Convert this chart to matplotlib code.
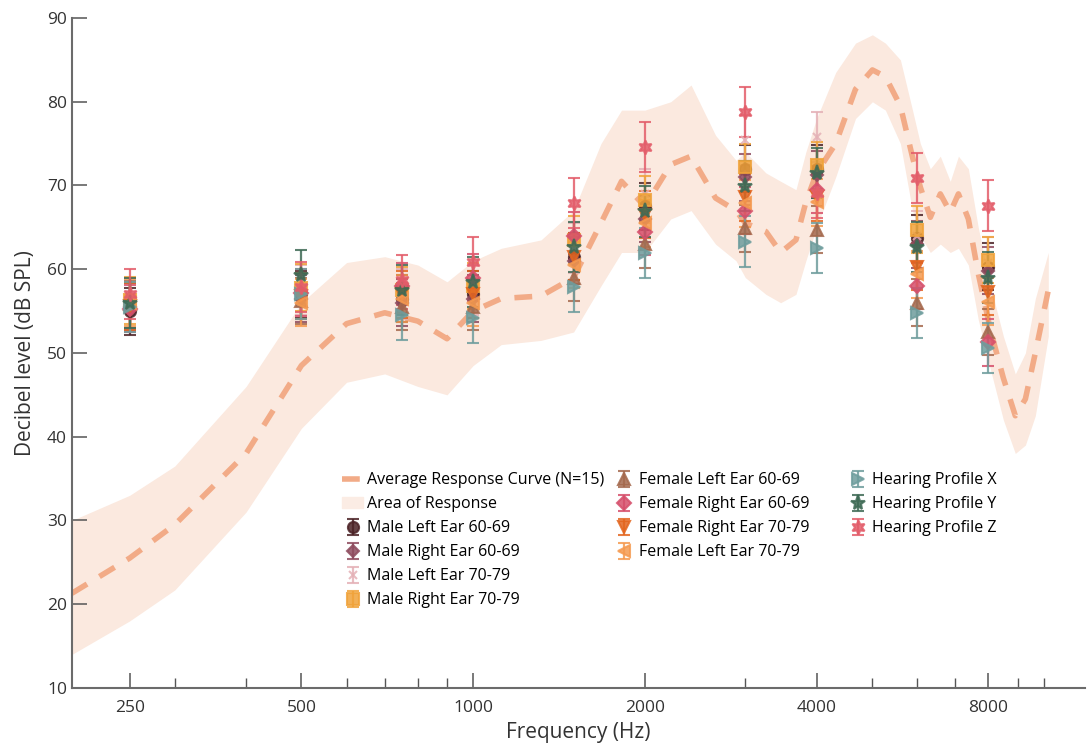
import matplotlib
matplotlib.use("Agg")
import matplotlib.pyplot as plt
from matplotlib.lines import Line2D
from matplotlib.patches import Patch

plt.rcParams['font.family'] = ['Open Sans', 'DejaVu Sans']

# test frequencies of the measured points
freqs = [250, 500, 750, 1000, 1500, 2000, 3000, 4000, 6000, 8000]

# average response curve and its area
curve_freq = [198, 250, 300, 400, 500, 600, 700, 800, 900, 1000, 1120, 1315, 1500,
              1675, 1820, 2000, 2220, 2410, 2660, 2890, 3000, 3260, 3460, 3680, 3830,
              4000, 4320, 4680, 5010, 5280, 5610, 5890, 6080, 6330, 6590, 6860, 7090,
              7380, 7680, 8070, 8500, 8920, 9290, 9670, 10190]
curve_avg = [21.3, 25.5, 29.5, 38.0, 48.5, 53.5, 54.8, 53.8, 51.7, 55.0, 56.5, 56.8, 59.0,
             65.5, 70.5, 67.5, 72.5, 73.5, 68.5, 67.0, 65.5, 64.5, 62.0, 63.5, 68.0,
             71.5, 75.0, 81.5, 83.8, 83.0, 79.5, 73.4, 69.8, 66.2, 69.0, 66.8, 69.0,
             66.0, 59.5, 52.7, 47.0, 42.5, 44.5, 50.0, 57.5]
curve_upper = [30.0, 33.0, 36.5, 46.0, 56.0, 60.8, 61.5, 60.5, 58.5, 61.0, 62.5, 63.5, 67.0,
               75.0, 79.0, 79.0, 80.0, 82.0, 76.0, 73.0, 74.0, 71.5, 70.5, 69.5, 74.0,
               78.0, 83.5, 87.0, 88.0, 87.0, 85.0, 79.0, 75.0, 72.0, 73.5, 70.5, 73.5,
               72.0, 65.0, 58.0, 52.0, 47.5, 50.0, 56.5, 62.0]
curve_lower = [14.0, 18.0, 21.7, 31.0, 41.0, 46.5, 47.5, 46.0, 45.0, 48.5, 51.0, 51.5, 52.5,
               58.0, 62.0, 62.0, 66.0, 67.0, 63.0, 61.0, 59.0, 57.0, 56.0, 57.0, 61.0,
               65.0, 71.0, 78.0, 80.0, 79.0, 75.0, 67.0, 64.0, 62.0, 63.0, 62.0, 62.5,
               60.5, 54.0, 48.0, 42.0, 38.0, 39.0, 42.5, 52.0]

series_names = ['Male Left Ear 60-69', 'Male Right Ear 60-69', 'Male Left Ear 70-79',
                'Male Right Ear 70-79', 'Female Left Ear 60-69', 'Female Right Ear 60-69',
                'Female Right Ear 70-79', 'Female Left Ear 70-79',
                'Hearing Profile X', 'Hearing Profile Y', 'Hearing Profile Z']

male_left_60 = [55.0, 57.0, 56.5, 57.0, 61.5, 67.5, 72.0, 72.0, 63.7, 60.3]
male_right_60 = [55.5, 56.5, 56.0, 56.5, 61.0, 66.0, 71.0, 71.3, 63.0, 59.8]
male_left_70 = [56.0, 57.5, 57.0, 57.5, 62.5, 69.0, 75.4, 75.8, 64.0, 60.8]
male_right_70 = [56.3, 57.8, 57.5, 58.0, 63.5, 68.3, 72.2, 72.4, 64.7, 61.1]
female_left_60 = [55.8, 56.2, 55.5, 55.5, 59.0, 63.0, 64.9, 64.7, 56.0, 52.5]
female_right_60 = [55.3, 57.2, 58.0, 59.0, 64.0, 64.5, 67.0, 69.5, 58.0, 51.3]
female_right_70 = [55.6, 56.8, 57.0, 57.0, 61.5, 66.5, 68.6, 68.6, 60.3, 57.3]
female_left_70 = [56.0, 56.0, 56.5, 56.0, 60.5, 65.5, 67.9, 68.0, 59.4, 56.1]
profile_x = [55.5, 57.0, 54.5, 54.2, 57.9, 61.9, 63.3, 62.5, 54.8, 50.6]
profile_y = [56.0, 59.3, 57.5, 58.5, 62.7, 66.9, 69.9, 71.5, 62.7, 59.0]
profile_z = [57.0, 57.9, 58.7, 60.9, 67.9, 74.6, 78.8, 69.1, 70.9, 67.6]

# +/- error of each series (dB)
series_err = [2.8, 2.8, 3.0, 2.8, 2.8, 2.8, 2.8, 2.8, 3.0, 3.0, 3.0]

series_vals = [male_left_60, male_right_60, male_left_70, male_right_70, female_left_60,
               female_right_60, female_right_70, female_left_70,
               profile_x, profile_y, profile_z]
colors = ['#4b2226', '#8e4b5e', '#e4b1b6', '#f0a33a', '#a5694d', '#d64f6b',
          '#e3661f', '#f59a50', '#6e9d9d', '#3e6a55', '#e35d6a']
markers = ['o', 'D', 'x', 's', '^', 'D', 'v', '<', '>', '*', (6, 1, 0)]
msizes = [8, 6, 6, 8, 9, 7, 9, 9, 9, 11, 10]

fig = plt.figure(figsize=(10.89, 7.51), dpi=100)
ax = fig.add_axes([0.066, 0.084, 0.93, 0.892])

area = ax.fill_between(curve_freq, curve_lower, curve_upper, color='#fbe9df', lw=0, zorder=0)
avg, = ax.plot(curve_freq, curve_avg, color='#f2ab87', lw=4, dashes=(3.2, 2.6), zorder=1)

handles = {}
for name, vals, err, c, m, ms in zip(series_names, series_vals, series_err, colors, markers, msizes):
    handles[name] = ax.errorbar(freqs, vals, yerr=err, ls='none', marker=m, ms=ms,
                                color=c, mec=c, mew=1.5, ecolor=c, elinewidth=1.6,
                                capsize=4, capthick=1.6, alpha=0.85, zorder=2)

ax.set_xscale('log', base=2)
ax.set_xlim(198, 11800)
ax.set_ylim(10, 90)
ax.set_xticks([250, 500, 1000, 2000, 4000, 8000])
ax.set_xticklabels(['250', '500', '1000', '2000', '4000', '8000'])
ax.set_xticks([300, 400, 600, 700, 800, 900, 3000, 5000, 6000, 7000, 9000, 10000], minor=True)
ax.xaxis.set_minor_formatter(matplotlib.ticker.NullFormatter())
ax.set_yticks(range(10, 91, 10))

for s in ['top', 'right']:
    ax.spines[s].set_visible(False)
for s in ['left', 'bottom']:
    ax.spines[s].set_color('#6b6b6b')
    ax.spines[s].set_linewidth(1.5)
ax.tick_params(axis='both', which='major', direction='in', length=11, width=1.1,
               color='#555555', labelsize=12.5, labelcolor='#333333')
ax.tick_params(axis='x', which='minor', direction='in', length=7, width=1.0, color='#555555')
ax.tick_params(axis='x', which='major', pad=9)

ax.set_xlabel('Frequency (Hz)', fontsize=15, color='#333333', labelpad=4)
ax.set_ylabel('Decibel level (dB SPL)', fontsize=15, color='#333333', labelpad=8)

leg_kw = dict(loc='upper left', frameon=False, fontsize=11.5, handlelength=1.3,
              handletextpad=0.25, labelspacing=0.5, borderpad=0, borderaxespad=0)

blank = Line2D([], [], ls='none')
leg_handles = [avg, Patch(color='#fbece4'),
               handles['Male Left Ear 60-69'], handles['Male Right Ear 60-69'],
               handles['Male Left Ear 70-79'], handles['Male Right Ear 70-79'],
               handles['Female Left Ear 60-69'], handles['Female Right Ear 60-69'],
               handles['Female Right Ear 70-79'], handles['Female Left Ear 70-79'], blank, blank]
leg_labels = ['Average Response Curve (N=15)', 'Area of Response',
              'Male Left Ear 60-69', 'Male Right Ear 60-69', 'Male Left Ear 70-79',
              'Male Right Ear 70-79', 'Female Left Ear 60-69', 'Female Right Ear 60-69',
              'Female Right Ear 70-79', 'Female Left Ear 70-79', '', '']
leg1 = ax.legend(leg_handles, leg_labels, ncol=2, bbox_to_anchor=(0.267, 0.322),
                 columnspacing=0.6, **leg_kw)
ax.add_artist(leg1)
ax.legend([handles['Hearing Profile X'], handles['Hearing Profile Y'],
           handles['Hearing Profile Z']],
          ['Hearing Profile X', 'Hearing Profile Y', 'Hearing Profile Z'],
          bbox_to_anchor=(0.766, 0.322), **leg_kw)

fig.savefig('out.png', dpi=100)
